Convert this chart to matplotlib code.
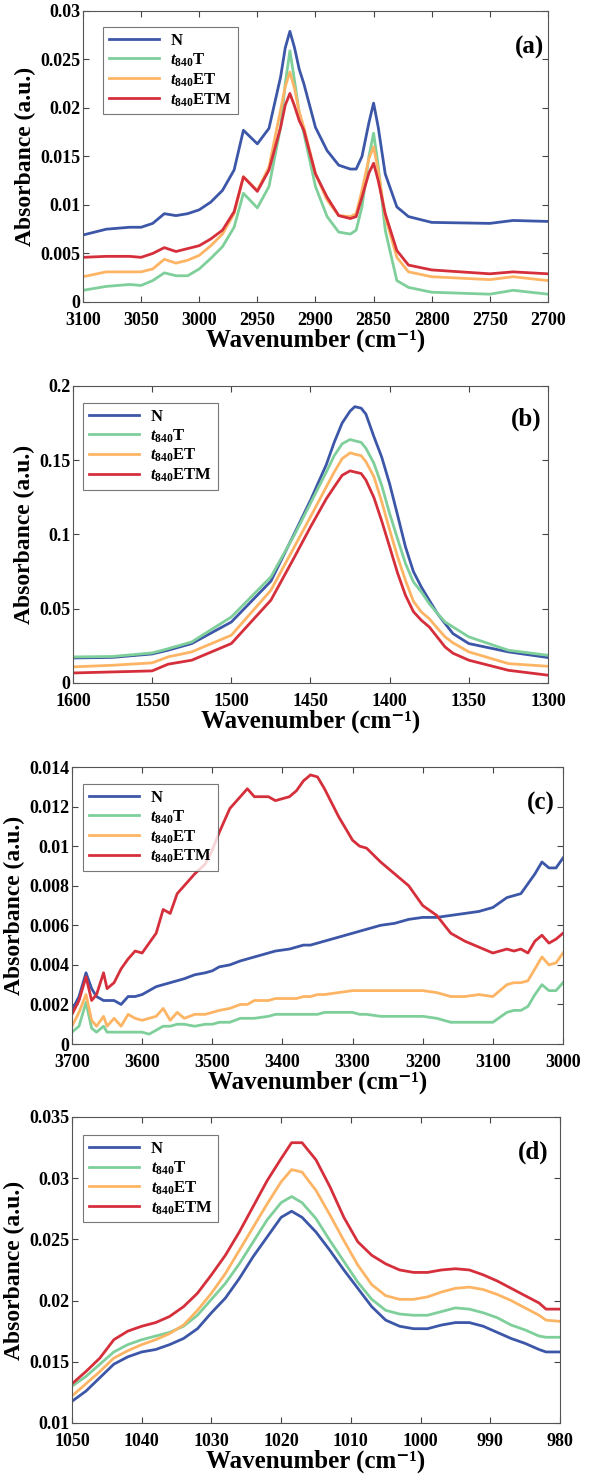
import matplotlib
matplotlib.use("Agg")
import matplotlib.pyplot as plt
from matplotlib.ticker import FuncFormatter

plt.rcParams["font.family"] = ["Liberation Serif", "DejaVu Serif"]
plt.rcParams["font.weight"] = "bold"
plt.rcParams["mathtext.fontset"] = "custom"
plt.rcParams["mathtext.rm"] = "Liberation Serif:bold"
plt.rcParams["mathtext.it"] = "Liberation Serif:italic:bold"
plt.rcParams["mathtext.bf"] = "Liberation Serif:bold"

labels = ["N", r"$t_{840}$T", r"$t_{840}$ET", r"$t_{840}$ETM"]
colors = ["#3d57a8", "#7fcf9b", "#fdb565", "#d62f3c"]

# ---- panel (a): 3100-2700 cm-1
wn_a = [3100, 3080, 3060, 3050, 3040, 3030, 3020, 3010, 3000, 2990, 2980, 2970,
        2962, 2950, 2940, 2930, 2926, 2922, 2918, 2914, 2910, 2900, 2890, 2880,
        2870, 2865, 2860, 2854, 2850, 2846, 2840, 2830, 2820, 2800, 2750, 2730, 2700]
a_N = [0.0069, 0.0075, 0.0077, 0.0077, 0.0081, 0.0091, 0.0089, 0.0091, 0.0095, 0.0103,
       0.0115, 0.0136, 0.0177, 0.0163, 0.0179, 0.0232, 0.0262, 0.0279, 0.0262, 0.0240,
       0.0225, 0.0180, 0.0156, 0.0141, 0.0137, 0.0137, 0.0150, 0.0185, 0.0205, 0.0180,
       0.0132, 0.0098, 0.0088, 0.0082, 0.0081, 0.0084, 0.0083]
a_T = [0.0012, 0.0016, 0.0018, 0.0017, 0.0022, 0.0030, 0.0027, 0.0027, 0.0034, 0.0045,
       0.0057, 0.0077, 0.0112, 0.0097, 0.0119, 0.0180, 0.0225, 0.0259, 0.0228, 0.0195,
       0.0174, 0.0119, 0.0088, 0.0072, 0.0070, 0.0074, 0.0098, 0.0150, 0.0174, 0.0140,
       0.0074, 0.0022, 0.0015, 0.0010, 0.0008, 0.0012, 0.0008]
a_ET = [0.0026, 0.0031, 0.0031, 0.0031, 0.0034, 0.0044, 0.0040, 0.0043, 0.0048, 0.0058,
        0.0070, 0.0091, 0.0129, 0.0115, 0.0139, 0.0198, 0.0222, 0.0237, 0.0220, 0.0196,
        0.0180, 0.0132, 0.0105, 0.0089, 0.0088, 0.0091, 0.0115, 0.0148, 0.0160, 0.0135,
        0.0088, 0.0046, 0.0031, 0.0026, 0.0023, 0.0026, 0.0022]
a_ETM = [0.0046, 0.0047, 0.0047, 0.0046, 0.0050, 0.0056, 0.0052, 0.0055, 0.0058, 0.0065,
         0.0074, 0.0093, 0.0129, 0.0114, 0.0136, 0.0180, 0.0203, 0.0215, 0.0202, 0.0187,
         0.0177, 0.0132, 0.0108, 0.0089, 0.0086, 0.0088, 0.0108, 0.0133, 0.0143, 0.0125,
         0.0091, 0.0053, 0.0038, 0.0033, 0.0029, 0.0031, 0.0029]

# ---- panel (b): 1600-1300 cm-1
wn_b = [1600, 1575, 1550, 1540, 1525, 1500, 1475, 1460, 1450, 1440, 1435, 1430, 1425,
        1422, 1418, 1415, 1410, 1405, 1400, 1395, 1390, 1385, 1380, 1375, 1370, 1365,
        1360, 1350, 1325, 1300]
b_N = [0.0168, 0.0172, 0.0195, 0.0220, 0.0265, 0.0410, 0.0685, 0.1010, 0.1230, 0.1470,
       0.1620, 0.1750, 0.1830, 0.1860, 0.1850, 0.1810, 0.1660, 0.1520, 0.1340, 0.1130,
       0.0916, 0.0750, 0.0646, 0.0557, 0.0470, 0.0400, 0.0332, 0.0265, 0.0209, 0.0171]
b_T = [0.0175, 0.0178, 0.0202, 0.0230, 0.0276, 0.0444, 0.0714, 0.1000, 0.1210, 0.1420,
       0.1530, 0.1610, 0.1639, 0.1630, 0.1620, 0.1580, 0.1480, 0.1330, 0.1140, 0.0970,
       0.0804, 0.0680, 0.0613, 0.0534, 0.0470, 0.0410, 0.0377, 0.0310, 0.0220, 0.0186]
b_ET = [0.0108, 0.0119, 0.0135, 0.0175, 0.0209, 0.0321, 0.0624, 0.0920, 0.1118, 0.1320,
        0.1420, 0.1510, 0.1549, 0.1540, 0.1530, 0.1490, 0.1390, 0.1220, 0.1030, 0.0850,
        0.0690, 0.0550, 0.0478, 0.0433, 0.0370, 0.0310, 0.0270, 0.0209, 0.0130, 0.0112]
b_ETM = [0.0067, 0.0074, 0.0081, 0.0126, 0.0153, 0.0265, 0.0557, 0.0850, 0.1050, 0.1240,
         0.1320, 0.1398, 0.1428, 0.1420, 0.1410, 0.1366, 0.1250, 0.1090, 0.0916, 0.0740,
         0.0590, 0.0480, 0.0422, 0.0377, 0.0310, 0.0242, 0.0200, 0.0153, 0.0085, 0.0052]

# ---- panel (c): 3700-3000 cm-1
wn_c = [3700, 3690, 3680, 3672, 3665, 3655, 3650, 3640, 3630, 3620, 3610, 3600, 3590,
        3580, 3570, 3560, 3550, 3540, 3525, 3510, 3500, 3490, 3475, 3460, 3450, 3440,
        3420, 3410, 3390, 3380, 3370, 3360, 3350, 3340, 3320, 3300, 3290, 3280, 3260,
        3240, 3220, 3200, 3180, 3160, 3140, 3120, 3100, 3080, 3070, 3060, 3050, 3040,
        3030, 3020, 3010, 3000]
c_N = [0.0017, 0.0024, 0.0036, 0.0028, 0.0024, 0.0022, 0.0022, 0.0022, 0.0020, 0.0024,
       0.0024, 0.0025, 0.0027, 0.0029, 0.0030, 0.0031, 0.0032, 0.0033, 0.0035, 0.0036,
       0.0037, 0.0039, 0.0040, 0.0042, 0.0043, 0.0044, 0.0046, 0.0047, 0.0048, 0.0049,
       0.0050, 0.0050, 0.0051, 0.0052, 0.0054, 0.0056, 0.0057, 0.0058, 0.0060, 0.0061,
       0.0063, 0.0064, 0.0064, 0.0065, 0.0066, 0.0067, 0.0069, 0.0074, 0.0075, 0.0076,
       0.0081, 0.0086, 0.0092, 0.0089, 0.0089, 0.0094]
c_T = [0.0006, 0.0009, 0.0021, 0.0008, 0.0006, 0.0009, 0.0006, 0.0006, 0.0006, 0.0006,
       0.0006, 0.0006, 0.0005, 0.0007, 0.0009, 0.0009, 0.0010, 0.0010, 0.0009, 0.0010,
       0.0010, 0.0011, 0.0011, 0.0013, 0.0013, 0.0013, 0.0014, 0.0015, 0.0015, 0.0015,
       0.0015, 0.0015, 0.0015, 0.0016, 0.0016, 0.0016, 0.0015, 0.0015, 0.0014, 0.0014,
       0.0014, 0.0014, 0.0013, 0.0011, 0.0011, 0.0011, 0.0011, 0.0016, 0.0017, 0.0017,
       0.0019, 0.0025, 0.0030, 0.0027, 0.0027, 0.0031]
c_ET = [0.0009, 0.0016, 0.0025, 0.0012, 0.0009, 0.0014, 0.0009, 0.0013, 0.0009, 0.0015,
        0.0013, 0.0012, 0.0013, 0.0014, 0.0018, 0.0012, 0.0016, 0.0013, 0.0015, 0.0015,
        0.0016, 0.0017, 0.0018, 0.0020, 0.0020, 0.0022, 0.0022, 0.0023, 0.0023, 0.0023,
        0.0024, 0.0024, 0.0025, 0.0025, 0.0026, 0.0027, 0.0027, 0.0027, 0.0027, 0.0027,
        0.0027, 0.0027, 0.0026, 0.0024, 0.0024, 0.0025, 0.0024, 0.0030, 0.0031, 0.0031,
        0.0032, 0.0038, 0.0044, 0.0040, 0.0041, 0.0046]
c_ETM = [0.0015, 0.0022, 0.0034, 0.0022, 0.0025, 0.0036, 0.0028, 0.0031, 0.0038, 0.0043,
         0.0047, 0.0046, 0.0051, 0.0056, 0.0068, 0.0066, 0.0076, 0.0080, 0.0086, 0.0091,
         0.0098, 0.0107, 0.0119, 0.0125, 0.0129, 0.0125, 0.0125, 0.0123, 0.0125, 0.0128,
         0.0133, 0.0136, 0.0135, 0.0129, 0.0115, 0.0103, 0.0100, 0.0099, 0.0092, 0.0086,
         0.0080, 0.0070, 0.0065, 0.0056, 0.0052, 0.0049, 0.0046, 0.0048, 0.0047, 0.0048,
         0.0046, 0.0052, 0.0055, 0.0051, 0.0053, 0.0056]

# ---- panel (d): 1050-980 cm-1
wn_d = [1050, 1048, 1046, 1044, 1042, 1040, 1038, 1036, 1034, 1032, 1030, 1028, 1026,
        1024, 1022, 1020, 1018.5, 1017, 1015, 1013, 1011, 1009, 1007, 1005, 1003, 1001,
        999, 997, 995, 993, 991, 989, 987, 985, 983, 982, 980]
d_N = [0.01177, 0.0126, 0.0137, 0.0148, 0.0154, 0.0158, 0.0160, 0.0164, 0.0169, 0.0177,
       0.0190, 0.0202, 0.0218, 0.0236, 0.0252, 0.0268, 0.0273, 0.0268, 0.0256, 0.0241,
       0.0225, 0.0210, 0.0195, 0.0184, 0.0179, 0.0177, 0.0177, 0.0180, 0.0182, 0.0182,
       0.0179, 0.0174, 0.0169, 0.0165, 0.0160, 0.0158, 0.0158]
d_T = [0.0130, 0.0138, 0.0148, 0.0158, 0.0164, 0.0168, 0.0171, 0.0174, 0.0179, 0.0188,
       0.0201, 0.0214, 0.0230, 0.0248, 0.0266, 0.0280, 0.0285, 0.0280, 0.0267, 0.0249,
       0.0232, 0.0215, 0.0201, 0.0192, 0.0189, 0.0188, 0.0188, 0.0191, 0.0194, 0.0193,
       0.0190, 0.0186, 0.0180, 0.0176, 0.0171, 0.0170, 0.0170]
d_ET = [0.0122, 0.0132, 0.0142, 0.0153, 0.0159, 0.0164, 0.0168, 0.0173, 0.0180, 0.0192,
        0.0206, 0.0222, 0.0241, 0.0260, 0.0279, 0.0297, 0.0307, 0.0305, 0.0290, 0.0270,
        0.0249, 0.0229, 0.0213, 0.0204, 0.0201, 0.0201, 0.0203, 0.0207, 0.0210, 0.0211,
        0.0209, 0.0205, 0.0200, 0.0194, 0.0188, 0.0184, 0.0183]
d_ETM = [0.0132, 0.0142, 0.0153, 0.0168, 0.0175, 0.0179, 0.0182, 0.0187, 0.0195, 0.0206,
         0.0221, 0.0237, 0.0256, 0.0277, 0.0298, 0.0316, 0.0329, 0.0329, 0.0315, 0.0293,
         0.0268, 0.0248, 0.0237, 0.0230, 0.0225, 0.0223, 0.0223, 0.0225, 0.0226, 0.0225,
         0.0221, 0.0216, 0.0210, 0.0204, 0.0198, 0.0193, 0.0193]

panels = [
    dict(rect=[0.1404, 0.7964, 0.7868, 0.1962], x=wn_a, ys=[a_N, a_T, a_ET, a_ETM],
         xlim=(3100, 2700), xticks=[3100, 3050, 3000, 2950, 2900, 2850, 2800, 2750, 2700],
         ylim=(0, 0.03), yticks=[0, 0.005, 0.01, 0.015, 0.02, 0.025, 0.03],
         tag="(a)", tagpos=(0.960, 0.876), legpos=(0.043, 0.945)),
    dict(rect=[0.1235, 0.5395, 0.8037, 0.2003], x=wn_b, ys=[b_N, b_T, b_ET, b_ETM],
         xlim=(1600, 1300), xticks=[1600, 1550, 1500, 1450, 1400, 1350, 1300],
         ylim=(0, 0.2), yticks=[0, 0.05, 0.1, 0.15, 0.2],
         tag="(b)", tagpos=(0.955, 0.886), legpos=(0.021, 0.943)),
    dict(rect=[0.1218, 0.2960, 0.8308, 0.1868], x=wn_c, ys=[c_N, c_T, c_ET, c_ETM],
         xlim=(3700, 3000), xticks=[3700, 3600, 3500, 3400, 3300, 3200, 3100, 3000],
         ylim=(0, 0.014), yticks=[0, 0.002, 0.004, 0.006, 0.008, 0.01, 0.012, 0.014],
         tag="(c)", tagpos=(0.955, 0.870), legpos=(0.022, 0.939)),
    dict(rect=[0.1218, 0.0405, 0.8257, 0.2063], x=wn_d, ys=[d_N, d_T, d_ET, d_ETM],
         xlim=(1050, 980), xticks=[1050, 1040, 1030, 1020, 1010, 1000, 990, 980],
         ylim=(0.01, 0.035), yticks=[0.01, 0.015, 0.02, 0.025, 0.03, 0.035],
         tag="(d)", tagpos=(0.945, 0.886), legpos=(0.023, 0.941)),
]

fig = plt.figure(figsize=(5.91, 14.83), dpi=100)

for p in panels:
    ax = fig.add_axes(p["rect"])
    for y, lab, c in zip(p["ys"], labels, colors):
        ax.plot(p["x"], y, color=c, lw=2.0, label=lab)
    ax.set_xlim(*p["xlim"])
    ax.set_ylim(*p["ylim"])
    ax.set_xticks(p["xticks"])
    ax.set_yticks(p["yticks"])
    ax.yaxis.set_major_formatter(FuncFormatter(lambda v, pos: f"{v:g}"))
    ax.tick_params(direction="in", top=True, right=True, length=4, width=0.8,
                   color="#444444", labelsize=13)
    ax.tick_params(axis="x", pad=7)
    ax.tick_params(axis="y", pad=2)
    for s in ax.spines.values():
        s.set_color("#555555")
        s.set_linewidth(0.8)
    ax.set_xlabel("Wavenumber (cm⁻¹)", fontsize=18, fontweight="bold", labelpad=0)
    ax.set_ylabel("Absorbance (a.u.)", fontsize=17, fontweight="bold", labelpad=3)
    ax.text(p["tagpos"][0], p["tagpos"][1], p["tag"], transform=ax.transAxes,
            fontsize=18, fontweight="bold", ha="center", va="center")
    leg = ax.legend(loc="upper left", bbox_to_anchor=p["legpos"], borderaxespad=0,
                    fontsize=12, handlelength=3.0, handletextpad=0.7, labelspacing=0.15,
                    frameon=True, fancybox=False, borderpad=0.35)
    leg.get_frame().set_edgecolor("#555555")
    leg.get_frame().set_linewidth(0.8)

plt.savefig("out.png", dpi=100)
